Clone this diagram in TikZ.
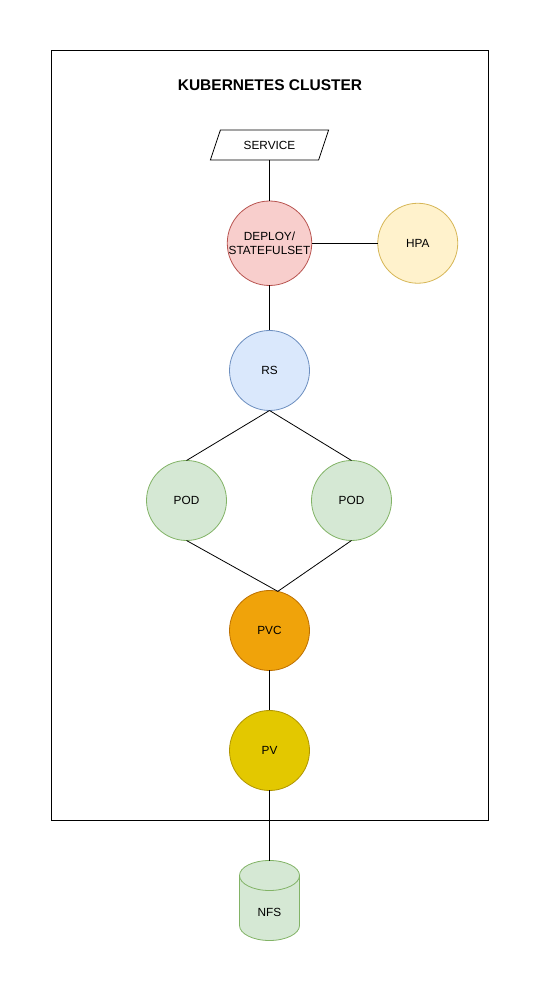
\documentclass[tikz,border=0pt]{standalone}
\usepackage{fontspec}
\setmainfont{Liberation Sans}
\usepackage{xcolor}
\usepackage{tikz}
\usetikzlibrary{shapes.geometric,positioning}
\definecolor{red-fill}{HTML}{F8CECC}
\definecolor{red-line}{HTML}{B85450}
\definecolor{yellow-fill}{HTML}{FFF2CC}
\definecolor{yellow-line}{HTML}{D6B656}
\definecolor{blue-fill}{HTML}{DAE8FC}
\definecolor{blue-line}{HTML}{6C8EBF}
\definecolor{green-fill}{HTML}{D5E8D4}
\definecolor{green-line}{HTML}{82B366}
\definecolor{orange-fill}{HTML}{F0A30A}
\definecolor{orange-line}{HTML}{BD7000}
\definecolor{gold-fill}{HTML}{E3C800}
\definecolor{gold-line}{HTML}{B09500}

\begin{document}
\begin{tikzpicture}[
    x=1pt, y=1pt,
    node distance=45pt,
    every node/.style={font=\fontsize{11.8}{14}\selectfont},
    cluster/.style={rectangle, draw, line width=1pt, minimum width=437pt, minimum height=770pt, inner sep=0pt, outer sep=0pt},
    res/.style={circle, draw, line width=0.8pt, minimum size=80pt, inner sep=0pt, outer sep=0pt, align=center},
    deploy/.style={res, fill=red-fill, draw=red-line, minimum size=84pt},
    hpa/.style={res, fill=yellow-fill, draw=yellow-line},
    rs/.style={res, fill=blue-fill, draw=blue-line},
    pod/.style={res, fill=green-fill, draw=green-line},
    pvc/.style={res, fill=orange-fill, draw=orange-line},
    pv/.style={res, fill=gold-fill, draw=gold-line},
    svc/.style={trapezium, draw, line width=0.8pt, fill=white, trapezium left angle=57.7, trapezium right angle=122.3, trapezium stretches=true, minimum width=119pt, minimum height=30pt, inner sep=0pt, outer sep=0pt},
    store/.style={rectangle, minimum width=60pt, minimum height=80pt, inner sep=0pt, outer sep=0pt},
    link/.style={line width=0.8pt}
]
\useasboundingbox (0,0) rectangle (539,-991);

% Cluster frame
\node[cluster] (cluster) at (269.5,-435) {};
\node[font=\fontsize{15.5}{17}\selectfont\bfseries] (title) at (270,-85) {KUBERNETES CLUSTER};

% Workload
\node[svc] (service) at (269.5,-145) {SERVICE};
\node[deploy, below=41pt of service] (deploy) {DEPLOY/\\STATEFULSET};
\node[hpa, right=66pt of deploy] (hpa) {HPA};
\node[rs, below=45pt of deploy] (rs) {RS};
\node[pod, below=50pt of rs, xshift=-83pt] (pod-a) {POD};
\node[pod, below=50pt of rs, xshift=82pt] (pod-b) {POD};

% Storage
\node[pvc, below=180pt of rs] (pvc) {PVC};
\node[pv, below=40pt of pvc] (pv) {PV};
\node[store, below=70pt of pv] (nfs) {};
\fill[green-fill] ([yshift=-15pt]nfs.north west) -- ([yshift=15pt]nfs.south west)
    arc (180:360:30pt and 15pt) -- ([yshift=-15pt]nfs.north east)
    arc (0:180:30pt and 15pt) -- cycle;
\draw[green-line, line width=0.8pt] ([yshift=-15pt]nfs.north west) -- ([yshift=15pt]nfs.south west)
    arc (180:360:30pt and 15pt) -- ([yshift=-15pt]nfs.north east)
    arc (0:180:30pt and 15pt) arc (180:360:30pt and 15pt);
\node at ([yshift=-12pt]nfs.center) (nfs-label) {NFS};

% Links
\draw[link] (service.south) -- (deploy.north);
\draw[link] (deploy.east) -- (hpa.west);
\draw[link] (deploy.south) -- (rs.north);
\draw[link] (rs.south) -- (pod-a.north);
\draw[link] (rs.south) -- (pod-b.north);
\draw[link] (pod-a.south) -- (pvc.78);
\draw[link] (pod-b.south) -- (pvc.78);
\draw[link] (pvc.south) -- (pv.north);
\draw[link] (pv.south) -- (nfs.north);

\end{tikzpicture}
\end{document}
